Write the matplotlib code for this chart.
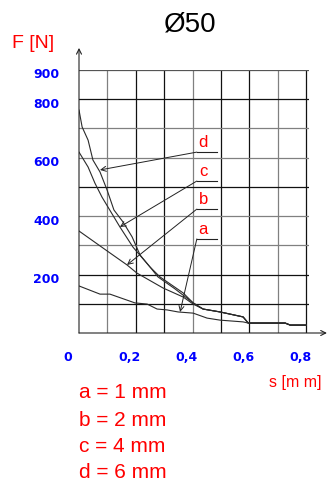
import numpy as np
import matplotlib.pyplot as plt
from matplotlib.transforms import ScaledTranslation

# curve data: s [mm], F [N]
tail_s = [0.437, 0.497, 0.578, 0.596, 0.726, 0.744, 0.80]
tail_F = [82, 72, 55, 34, 34, 27, 27]

s_a = [0, 0.074, 0.109, 0.197, 0.240, 0.275, 0.310, 0.349, 0.402, 0.451, 0.497, 0.578, 0.596, 0.726, 0.744, 0.80]
F_a = [161, 133, 133, 103, 99, 82, 79, 72, 68, 51, 44, 38, 34, 34, 27, 27]

s_b = [0, 0.109, 0.169, 0.204, 0.296, 0.367, 0.402] + tail_s
F_b = [349, 274, 233, 205, 154, 123, 99] + tail_F

s_c = [0, 0.032, 0.056, 0.081, 0.102, 0.144, 0.190, 0.250, 0.285, 0.367, 0.402] + tail_s
F_c = [619, 568, 513, 465, 431, 363, 294, 226, 192, 137, 103] + tail_F

s_d = [0, 0.011, 0.032, 0.049, 0.074, 0.099, 0.123, 0.155, 0.187, 0.215, 0.250, 0.278, 0.338, 0.402] + tail_s
F_d = [763, 705, 660, 592, 551, 489, 421, 380, 329, 267, 226, 192, 151, 103] + tail_F

curve_names = ['a', 'b', 'c', 'd']
# label underline height (F) and leader tip for each curve
label_F = [322, 424, 520, 619]
tip_s = [0.356, 0.169, 0.144, 0.074]
tip_F = [72, 233, 363, 558]
legend_lines = ['a = 1 mm', 'b = 2 mm', 'c = 4 mm', 'd = 6 mm']

xtick_vals = [0, 0.2, 0.4, 0.6, 0.8]
xtick_labels = ['0', '0,2', '0,4', '0,6', '0,8']
ytick_vals = [900, 800, 600, 400, 200]

W, H = 327, 483
fig = plt.figure(figsize=(W / 100, H / 100), dpi=100)
ax = fig.add_axes([79 / W, (H - 333) / H, 230 / W, 263 / H])
ax.set_xlim(0, 0.81)
ax.set_ylim(0, 900)
for sp in ax.spines.values():
    sp.set_visible(False)

# grid, alternating dark/grey like the original drawing
vcol = ['#808080', '#111111', '#111111', '#808080', '#111111', '#111111', '#808080', '#111111']
for i, x in enumerate(np.arange(0.1, 0.81, 0.1)):
    ax.plot([x, x], [0, 900], color=vcol[i], lw=0.9)
hcol = ['#111111', '#111111', '#808080', '#808080', '#111111', '#808080', '#808080', '#111111', '#555555']
for i, y in enumerate(range(100, 901, 100)):
    ax.plot([0, 0.81], [y, y], color=hcol[i], lw=0.9)

# axes with arrows
ax.annotate('', xy=(1.078, 0), xytext=(0, 0), xycoords='axes fraction',
            arrowprops=dict(arrowstyle='->', lw=0.8, color='#222222', shrinkA=0, shrinkB=0,
                            mutation_scale=9), annotation_clip=False)
ax.annotate('', xy=(0, 1.084), xytext=(0, 0), xycoords='axes fraction',
            arrowprops=dict(arrowstyle='->', lw=0.8, color='#222222', shrinkA=0, shrinkB=0,
                            mutation_scale=9), annotation_clip=False)

for s, F in [(s_a, F_a), (s_b, F_b), (s_c, F_c), (s_d, F_d)]:
    ax.plot(s, F, color='#2a2a2a', lw=0.8)

# labels with leader arrows
for name, ly, tx, ty in zip(curve_names, label_F, tip_s, tip_F):
    ax.plot([0.415, 0.486], [ly, ly], color='#222222', lw=0.8)
    ax.text(0.437, ly + 8, name, color='red', fontsize=12, family='Liberation Sans',
            ha='center', va='bottom')
    ax.annotate('', xy=(tx, ty), xytext=(0.415, ly),
                arrowprops=dict(arrowstyle='->', lw=0.7, color='#222222', shrinkA=0, shrinkB=0,
                                mutation_scale=9))

ax.set_xticks(xtick_vals)
ax.set_xticklabels(xtick_labels)
ax.set_yticks(ytick_vals)
ax.set_yticklabels([str(v) for v in ytick_vals])
ax.tick_params(length=0, colors='blue', labelsize=9)
ax.tick_params(axis='x', pad=13)
ax.tick_params(axis='y', pad=14)
for lab in ax.get_xticklabels() + ax.get_yticklabels():
    lab.set_fontweight('bold')
    lab.set_color('blue')
for i, lab in enumerate(ax.get_xticklabels()):
    dx = -11 if i == 0 else -6
    lab.set_transform(lab.get_transform() + ScaledTranslation(dx / 100, 0, fig.dpi_scale_trans))
for lab in ax.get_yticklabels():
    lab.set_transform(lab.get_transform() + ScaledTranslation(0, -3.5 / 100, fig.dpi_scale_trans))

fig.text(190 / W, 1 - 25 / H, 'Ø50', fontsize=20, family='Liberation Sans',
         ha='center', va='center', color='black')
fig.text(12 / W, 1 - 43 / H, 'F [N]', fontsize=14, family='Liberation Sans',
         ha='left', va='center', color='red')
fig.text(295 / W, 1 - 382 / H, 's [m m]', fontsize=11.5, family='Liberation Sans',
         ha='center', va='center', color='red')
for i, t in enumerate(legend_lines):
    y = [392, 420, 446, 472][i]
    fig.text(79 / W, 1 - y / H, t, fontsize=15, family='Liberation Sans',
             ha='left', va='center', color='red')

fig.savefig('out.png', dpi=100)
